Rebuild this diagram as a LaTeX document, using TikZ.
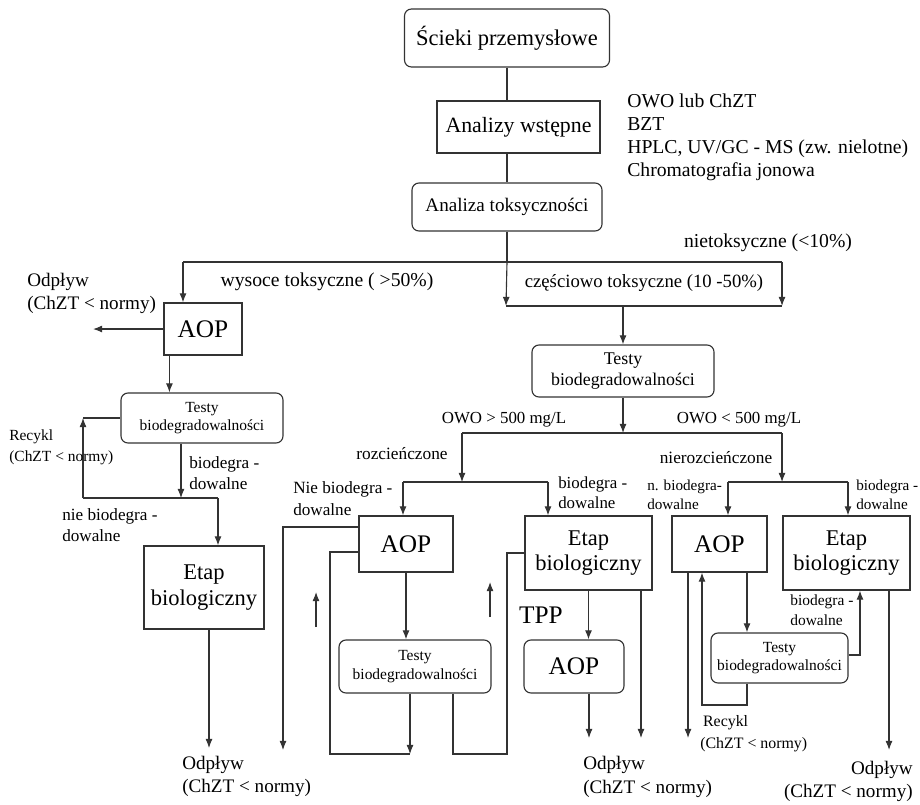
\documentclass[tikz,border=0pt]{standalone}
\usepackage{fontspec}
\setmainfont{Liberation Serif}
\usetikzlibrary{arrows.meta}
\newcommand{\fsz}[2]{\fontsize{#1}{#2}\selectfont}
\tikzset{
  ln/.style={line width=0.8pt, draw=black!80},
  arr/.style={ln, -{Latex[length=6.5pt,width=5pt]}},
  box/.style={ln, inner sep=0pt, align=center, text=black},
  rbox/.style={box, rounded corners=5pt},
  lbl/.style={inner sep=0pt, align=left, text=black},
}

\begin{document}
\begin{tikzpicture}[x=0.025cm, y=-0.025cm]
			%%%%% START %%%%%
			\useasboundingbox (0,0) rectangle (920,804);
			
			% main chain
			\node[rbox, minimum width=5.125cm, minimum height=1.45cm, font=\fsz{16}{19}] (src) at (507,38) {Ścieki przemysłowe};
			\node[box, minimum width=4.075cm, minimum height=1.3cm, font=\fsz{15.5}{18}] (anw) at (518.5,127) {Analizy wstępne};
			\node[rbox, minimum width=4.75cm, minimum height=1.2cm, font=\fsz{13.6}{16}] (atx) at (507,207) {Analiza toksyczności};
			\node[lbl, anchor=west, font=\fsz{14}{16.4}] (meth) at (627,137) {OWO lub ChZT\\BZT\\HPLC, UV/GC - MS (zw. nielotne)\\Chromatografia jonowa};
			
			\draw[ln] (src) -- (src |- anw.north);
			\draw[ln] (anw.south -| atx) -- (atx);
			
			% toxicity split
			\coordinate (jt) at (507,262);
			\coordinate (jl) at (183,262);
			\coordinate (jr) at (782,262);
			\coordinate (bl) at (506,306);
			\coordinate (br) at (782,306);
			\draw[ln] (atx) -- (jt);
			\draw[arr] (jt) -- (bl);
			\draw[ln] (jl) -- (jr);
			\draw[arr] (jr) -- (br);
			\draw[ln] (bl) -- (br);
			
			\node[lbl, font=\fsz{14}{16}] (wt) at (327,282) {wysoce toksyczne ( >50\%)};
			\node[lbl, font=\fsz{14}{16}] (nt) at (768,243) {nietoksyczne (<10\%)};
			\node[lbl, font=\fsz{13.3}{16}] (ct) at (644,283) {częściowo toksyczne (10 -50\%)};
			
			% left branch
			\node[box, minimum width=1.95cm, minimum height=1.3cm, font=\fsz{18}{20}] (aop1) at (203,329) {AOP};
			\node[rbox, minimum width=4.05cm, minimum height=1.25cm, font=\fsz{11}{13}] (tst1) at (202,418) {Testy\\biodegradowalności};
			\node[box, minimum width=3cm, minimum height=2.075cm, font=\fsz{16}{18}] (bio1) at (204,587.5) {Etap\\biologiczny};
			\node[lbl, anchor=west, font=\fsz{13.6}{16.4}] (odp0) at (27,293) {Odpływ\\(ChZT < normy)};
			
			\coordinate (out1) at (93,329);
			\coordinate (r1) at (83,498);
			\coordinate (r2) at (83,418);
			\coordinate (b1) at (218,498);
			\coordinate (o1) at (209,748);
			\draw[arr] (jl) -- (jl |- aop1.north);
			\draw[arr] (aop1) -- (out1);
			\draw[arr] ([xshift=0.15cm]aop1.south west) -- ([xshift=0.15cm]aop1.south west |- tst1.north);
			\draw[arr] ([xshift=-0.525cm]tst1.south) -- ([xshift=-0.525cm]tst1.south |- r1);
			\draw[ln] (r1) -- (b1);
			\draw[arr] (b1) -- (b1 |- bio1.north);
			\draw[arr] (r1) -- (r2);
			\draw[ln] (r2) -- (tst1.west |- r2);
			\draw[arr] (bio1.south -| o1) -- (o1);
			
			\node[lbl, anchor=west, font=\fsz{11}{15}] (rc1) at (9,447) {Recykl\\(ChZT < normy)};
			\node[lbl, anchor=west, font=\fsz{12.2}{14.5}] (bd1) at (189,473) {biodegra -\\dowalne};
			\node[lbl, anchor=west, font=\fsz{12.2}{14.5}] (nb1) at (62,525) {nie biodegra -\\dowalne};
			\node[lbl, anchor=west, font=\fsz{13.6}{16.4}] (odp1) at (182,776) {Odpływ\\(ChZT < normy)};
			
			% partly toxic branch
			\node[rbox, minimum width=4.55cm, minimum height=1.3cm, font=\fsz{12.7}{15}] (tst2) at (623,371) {Testy\\biodegradowalności};
			\draw[arr] (bl -| tst2) -- (tst2.north);
			
			\coordinate (m1) at (462,433);
			\coordinate (m2) at (782,433);
			\coordinate (m3) at (462,482);
			\coordinate (m4) at (782,482);
			\coordinate (ml) at (403,482);
			\coordinate (mr) at (548,482);
			\coordinate (nl) at (728,482);
			\coordinate (nr) at (848,482);
			\draw[arr] (tst2) -- (tst2 |- m1);
			\draw[ln] (m1) -- (m2);
			\draw[arr] (m1) -- (m3);
			\draw[arr] (m2) -- (m4);
			\draw[ln] (ml) -- (mr);
			\draw[ln] (nl) -- (nr);
			
			\node[lbl, font=\fsz{12}{14}] (ow1) at (504,420) {OWO > 500 mg/L};
			\node[lbl, font=\fsz{12}{14}] (ow2) at (739,420) {OWO < 500 mg/L};
			\node[lbl, font=\fsz{12.3}{14}] (rz) at (402,454) {rozcieńczone};
			\node[lbl, font=\fsz{12.3}{14}] (nrz) at (716,458) {nierozcieńczone};
			
			% diluted
			\node[box, minimum width=2.35cm, minimum height=1.4cm, font=\fsz{18}{20}] (aop2) at (406,544) {AOP};
			\node[box, minimum width=3.175cm, minimum height=1.85cm, font=\fsz{16}{18}] (bio2) at (588.5,553) {Etap\\biologiczny};
			\node[rbox, minimum width=3.8cm, minimum height=1.325cm, font=\fsz{11}{13}] (tst3) at (415,666.5) {Testy\\biodegradowalności};
			\node[rbox, minimum width=2.5cm, minimum height=1.325cm, font=\fsz{18}{20}] (aop3) at (574,666.5) {AOP};
			\node[lbl, font=\fsz{18}{20}] (tpp) at (541,615) {TPP};
			
			\draw[arr] (ml) -- (aop2.north -| ml);
			\draw[arr] (mr) -- (bio2.north -| mr);
			
			\coordinate (o2) at (283,750);
			\coordinate (lp1) at (330,754);
			\coordinate (lp2) at (410,754);
			\coordinate (lp3) at (453,754);
			\coordinate (lp4) at (507,754);
			\coordinate (o3) at (589,738);
			\coordinate (o4) at (641,738);
			\draw[arr] ([yshift=0.425cm]aop2.west) -| (o2);
			\draw[ln] ([yshift=-0.2cm]aop2.west) -| (lp1) -- (lp2);
			\draw[arr] (aop2.south) -- (aop2.south |- tst3.north);
			\draw[arr] (tst3.south -| lp2) -- (lp2);
			\draw[ln] (tst3.south -| lp3) -- (lp3) -- (lp4) |- (bio2.west);
			\draw[arr] (316,627) -- (316,592);
			\draw[arr] (490,617) -- (490,582);
			\draw[arr] (bio2.south) -- (bio2.south |- aop3.north);
			\draw[arr] (aop3.south -| o3) -- (o3);
			\draw[arr] (bio2.south -| o4) -- (o4);
			
			\node[lbl, anchor=west, font=\fsz{12.2}{15.5}] (nb2) at (293,499) {Nie biodegra -\\dowalne};
			\node[lbl, anchor=west, font=\fsz{12}{14.5}] (bd2) at (558,493) {biodegra -\\dowalne};
			\node[lbl, anchor=west, font=\fsz{13.6}{17}] (odp2) at (583,777) {Odpływ\\(ChZT < normy)};
			
			% undiluted
			\node[box, minimum width=2.375cm, minimum height=1.4cm, font=\fsz{18}{20}] (aop4) at (719.5,544) {AOP};
			\node[box, minimum width=3.175cm, minimum height=1.85cm, font=\fsz{16}{18}] (bio3) at (846.5,553) {Etap\\biologiczny};
			\node[rbox, minimum width=3.425cm, minimum height=1.25cm, font=\fsz{11}{13}] (tst4) at (779.5,658) {Testy\\biodegradowalności};
			
			\draw[arr] (nl) -- (aop4.north -| nl);
			\draw[arr] (nr) -- (bio3.north -| nr);
			
			\coordinate (o5) at (688,738);
			\coordinate (lp5) at (747,705);
			\coordinate (lp6) at (702,705);
			\coordinate (lp7) at (860,655);
			\coordinate (o6) at (889,750);
			\draw[arr] (aop4.south -| o5) -- (o5);
			\draw[arr] (aop4.south -| lp5) -- (tst4.north -| lp5);
			\draw[arr] (tst4.south -| lp5) -- (lp5) -- (lp6) -- (aop4.south -| lp6);
			\draw[arr] (tst4.east |- lp7) -- (lp7) -- (bio3.south -| lp7);
			\draw[arr] (bio3.south -| o6) -- (o6);
			
			\node[lbl, anchor=west, font=\fsz{10.8}{13.5}] (nb3) at (647,495) {n. biodegra-\\dowalne};
			\node[lbl, anchor=west, font=\fsz{10.8}{13.5}] (bd3) at (856,495) {biodegra -\\dowalne};
			\node[lbl, anchor=west, font=\fsz{11}{14}] (bd4) at (790,610) {biodegra -\\dowalne};
			\node[lbl, anchor=west, font=\fsz{11.3}{15.5}] (rc2) at (700,734) {\hspace*{2pt}Recykl\\(ChZT < normy)};
			\node[lbl, anchor=east, align=right, font=\fsz{13.6}{16.4}] (odp3) at (913,781) {Odpływ\\(ChZT < normy)};
			
			%%%%% END %%%%%
\end{tikzpicture}
\end{document}
